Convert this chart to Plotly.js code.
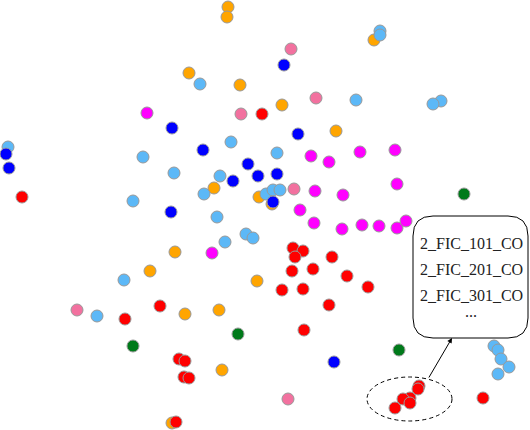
<!DOCTYPE html>
<html>
<head>
<meta charset="utf-8">
<script src="https://cdn.plot.ly/plotly-3.0.1.min.js"></script>
<style>
  html, body { margin: 0; padding: 0; background: #fff; }
  #plotArea { width: 530px; height: 430px; }
</style>
</head>
<body>
<div id="plotArea"></div>
<script>
// point positions (x to the right, y downward)
var orangeX = [228, 227, 189, 240, 374, 282, 336, 214, 259, 272, 175, 150, 257, 185, 219, 222, 172];
var orangeY = [7, 17, 73, 85, 40, 105, 131, 188, 197, 204, 252, 271, 281, 314, 310, 370, 423];

var lightBlueX = [200, 231, 8, 143, 174, 220, 204, 266, 273, 280, 133, 217, 246, 253, 225, 124, 97, 380, 380, 356, 441, 433, 277, 494, 498, 501, 509, 498];
var lightBlueY = [84, 142, 147, 157, 173, 176, 194, 194, 190, 190, 201, 217, 234, 238, 242, 280, 316, 31, 35, 100, 101, 104, 153, 346, 350, 359, 367, 374];

var pinkX = [241, 291, 316, 294, 77, 288];
var pinkY = [114, 49, 98, 189, 310, 399];

var magentaX = [147, 212, 311, 329, 360, 395, 315, 343, 397, 300, 314, 342, 362, 379, 397, 406];
var magentaY = [113, 253, 156, 162, 152, 150, 191, 195, 184, 210, 223, 229, 225, 226, 228, 221];

var blueX = [6, 9, 172, 203, 248, 258, 233, 171, 284, 298, 277, 273, 334];
var blueY = [154, 168, 128, 150, 164, 176, 181, 212, 65, 134, 174, 202, 362];

var greenX = [464, 238, 133, 399];
var greenY = [194, 334, 346, 350];

var redX = [262, 22, 160, 125, 179, 185, 184, 189, 176, 293, 303, 295, 332, 292, 313, 347, 282, 303, 368, 329, 304, 419, 418, 410, 403, 410, 395, 483];
var redY = [114, 197, 306, 319, 359, 361, 377, 378, 422, 248, 251, 257, 257, 271, 269, 276, 290, 289, 287, 305, 330, 386, 389, 398, 399, 403, 408, 398];

var boxLines = ["2_FIC_101_CO", "2_FIC_201_CO", "2_FIC_301_CO", "..."];

function group(xs, ys, colour) {
    return {
        x: xs,
        y: ys,
        mode: "markers",
        type: "scatter",
        marker: {size: 12, color: colour, line: {color: "#999999", width: 1}},
        hoverinfo: "skip"
    };
}

var data = [
    group(orangeX, orangeY, "#ffa500"),
    group(lightBlueX, lightBlueY, "#5cb8f7"),
    group(pinkX, pinkY, "#f2719f"),
    group(magentaX, magentaY, "#ff00ff"),
    group(blueX, blueY, "#0000ff"),
    group(greenX, greenY, "#007a1a"),
    group(redX, redY, "#ff0000")
];

var textY = [243, 269, 295, 311];
var notes = boxLines.map(function (t, i) {
    return {
        x: 471, y: textY[i], xref: "x", yref: "y",
        text: t, showarrow: false,
        font: {family: "Liberation Serif, Times New Roman, serif", size: 16, color: "#222"}
    };
});
notes.push({
    x: 452, y: 338, xref: "x", yref: "y",
    ax: 428, ay: 379, axref: "x", ayref: "y",
    text: "", showarrow: true,
    arrowhead: 2, arrowsize: 1, arrowwidth: 1, arrowcolor: "#000"
});

var layout = {
    width: 530,
    height: 430,
    margin: {l: 0, r: 0, t: 0, b: 0},
    paper_bgcolor: "#fff",
    plot_bgcolor: "#fff",
    showlegend: false,
    xaxis: {range: [0, 530], visible: false, fixedrange: true},
    yaxis: {range: [430, 0], visible: false, fixedrange: true},
    shapes: [
        {
            type: "circle", xref: "x", yref: "y",
            x0: 367, x1: 452, y0: 377, y1: 421,
            line: {color: "#000", width: 1, dash: "4px,3px"}
        },
        {
            type: "path", xref: "x", yref: "y",
            path: "M 433,216 L 508,216 Q 528,216 528,236 L 528,318 Q 528,338 508,338 L 433,338 Q 413,338 413,318 L 413,236 Q 413,216 433,216 Z",
            line: {color: "#000", width: 1},
            fillcolor: "#fff"
        }
    ],
    annotations: notes
};

Plotly.newPlot("plotArea", data, layout, {displayModeBar: false, staticPlot: true});
</script>
</body>
</html>
